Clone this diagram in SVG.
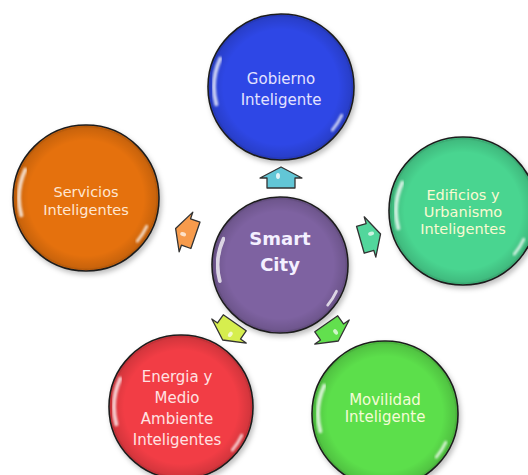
<svg xmlns="http://www.w3.org/2000/svg" xmlns:xlink="http://www.w3.org/1999/xlink" width="528" height="475" viewBox="0 0 528 475">
<style>
.ring{stroke:#1e1e1e;stroke-width:1.6}
.shade{fill:url(#rim)}
.hl{fill:none;stroke:#fff;stroke-linecap:round;opacity:0.75}
.lbl{font-family:"DejaVu Sans","Verdana",sans-serif;font-size:15px;text-anchor:middle}
.sm{font-size:14.5px}
.big{font-family:"DejaVu Sans","Verdana",sans-serif;font-size:18px;font-weight:bold;text-anchor:middle}
.arrow{stroke:#333;stroke-width:1.3;stroke-linejoin:round}
</style>
<defs>
<radialGradient id="rim" cx="0.5" cy="0.5" r="0.5">
<stop offset="0.8" stop-color="#000" stop-opacity="0"/>
<stop offset="0.97" stop-color="#000" stop-opacity="0.12"/>
<stop offset="1" stop-color="#000" stop-opacity="0.25"/>
</radialGradient>
<filter id="sh" x="-20%" y="-20%" width="140%" height="140%">
<feDropShadow dx="2" dy="3" stdDeviation="2.5" flood-color="#000" flood-opacity="0.25"/>
</filter>
<filter id="blur" x="-20%" y="-20%" width="140%" height="140%">
<feGaussianBlur stdDeviation="0.8"/>
</filter>
<g id="hl">
<path class="hl" stroke-width="4" filter="url(#blur)" d="M -64.7,17.3 A 67 67 0 0 1 -60.7,-28.3"/>
<path class="hl" stroke-width="3" filter="url(#blur)" d="M 60.7,28.3 A 67 67 0 0 1 51.3,43.1"/>
</g>
<path id="arr" d="M -10,-14 L 0,-14 L 0,-21 L 11,0 L 0,21 L 0,14 L -10,14 Z"/>
</defs>

<g id="connectors">
<g transform="translate(281,178) rotate(-90)"><use xlink:href="#arr" class="arrow" fill="#62C6D6"/><ellipse cx="2" cy="-3" rx="3" ry="2" fill="#fff" opacity="0.8"/></g>
<g transform="translate(186,232) rotate(199)"><use xlink:href="#arr" class="arrow" fill="#F79B4C"/><ellipse cx="2" cy="-3" rx="3" ry="2" fill="#fff" opacity="0.7"/></g>
<g transform="translate(370,237) rotate(-16)"><use xlink:href="#arr" class="arrow" fill="#52D69C"/><ellipse cx="2" cy="-3" rx="3" ry="2" fill="#fff" opacity="0.7"/></g>
<g transform="translate(229,331) rotate(125)"><use xlink:href="#arr" class="arrow" fill="#D6EE4E"/><ellipse cx="2" cy="-3" rx="3" ry="2" fill="#fff" opacity="0.7"/></g>
<g transform="translate(332,332) rotate(55)"><use xlink:href="#arr" class="arrow" fill="#62E04E"/><ellipse cx="2" cy="-3" rx="3" ry="2" fill="#fff" opacity="0.7"/></g>
</g>

<g id="node-gobierno">
<circle cx="281" cy="87" r="73" fill="#2F46E6" class="ring" filter="url(#sh)"/>
<circle cx="281" cy="87" r="72" class="shade"/>
<use xlink:href="#hl" transform="translate(281,87)"/>
<text class="lbl" fill="#E4E2FF" x="281" y="84">Gobierno</text>
<text class="lbl" fill="#E4E2FF" x="281" y="105">Inteligente</text>
</g>

<g id="node-servicios">
<circle cx="86" cy="198" r="73" fill="#E5710F" class="ring" filter="url(#sh)"/>
<circle cx="86" cy="198" r="72" class="shade"/>
<use xlink:href="#hl" transform="translate(86,198)"/>
<text class="lbl sm" fill="#FFE6D2" x="86" y="197">Servicios</text>
<text class="lbl sm" fill="#FFE6D2" x="86" y="215">Inteligentes</text>
</g>

<g id="node-edificios">
<circle cx="463" cy="211" r="74" fill="#48D590" class="ring" filter="url(#sh)"/>
<circle cx="463" cy="211" r="73" class="shade"/>
<use xlink:href="#hl" transform="translate(463,211)"/>
<text class="lbl sm" fill="#FAFAD2" x="463" y="200">Edificios y</text>
<text class="lbl sm" fill="#FAFAD2" x="463" y="217">Urbanismo</text>
<text class="lbl sm" fill="#FAFAD2" x="463" y="234">Inteligentes</text>
</g>

<g id="node-energia">
<circle cx="181" cy="407" r="72" fill="#F23E45" class="ring" filter="url(#sh)"/>
<circle cx="181" cy="407" r="71" class="shade"/>
<use xlink:href="#hl" transform="translate(181,407)"/>
<text class="lbl" fill="#FFE2E2" x="177" y="382">Energia y</text>
<text class="lbl" fill="#FFE2E2" x="177" y="403">Medio</text>
<text class="lbl" fill="#FFE2E2" x="177" y="424">Ambiente</text>
<text class="lbl" fill="#FFE2E2" x="177" y="445">Inteligentes</text>
</g>

<g id="node-movilidad">
<circle cx="385" cy="414" r="73" fill="#5CDF4B" class="ring" filter="url(#sh)"/>
<circle cx="385" cy="414" r="72" class="shade"/>
<use xlink:href="#hl" transform="translate(385,414)"/>
<text class="lbl" fill="#F4FCD6" x="385" y="405">Movilidad</text>
<text class="lbl" fill="#F4FCD6" x="385" y="422">Inteligente</text>
</g>

<g id="node-smartcity">
<circle cx="280" cy="265" r="68" fill="#7E62A1" class="ring" filter="url(#sh)"/>
<circle cx="280" cy="265" r="67" class="shade"/>
<use xlink:href="#hl" transform="translate(280,265) scale(0.93)"/>
<text class="big" fill="#F4F0FF" x="280" y="245">Smart</text>
<text class="big" fill="#F4F0FF" x="280" y="271">City</text>
</g>
</svg>
